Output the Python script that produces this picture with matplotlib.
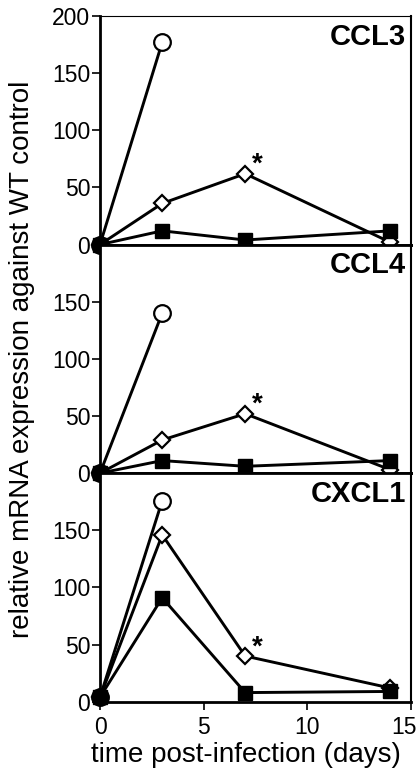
import numpy as np
import matplotlib
matplotlib.use("Agg")
import matplotlib.pyplot as plt
from matplotlib.transforms import ScaledTranslation

plt.rcParams['font.family'] = ['Liberation Sans', 'DejaVu Sans']

# dados (dias pos-infeccao)
days_circle = [0, 3]
days = [0, 3, 7, 14]

genes = ['CCL3', 'CCL4', 'CXCL1']
circle_vals = [[0, 177], [0, 140], [4, 176]]
diamond_vals = [[0, 36, 62, 2], [0, 29, 52, 3], [4, 146, 40, 12]]
square_vals = [[0, 12, 4, 12], [0, 11, 6, 11], [4, 91, 8, 9]]
star_day = 7

ytick_sets = [[0, 50, 100, 150, 200], [0, 50, 100, 150], [0, 50, 100, 150]]
xticks = [0, 5, 10, 15]

fig = plt.figure(figsize=(4.19, 7.76), dpi=100)
gs = fig.add_gridspec(3, 1, left=0.2387, right=0.981, top=0.9794, bottom=0.0957, hspace=0)
axes = [fig.add_subplot(gs[i, 0]) for i in range(3)]

for i, ax in enumerate(axes):
    ax.plot(days_circle, circle_vals[i], '-o', color='black', lw=2.1, ms=12,
            mfc='white', mec='black', mew=1.6, clip_on=False, zorder=3)
    ax.plot(days, diamond_vals[i], '-D', color='black', lw=2.1, ms=8.5,
            mfc='white', mec='black', mew=1.6, clip_on=False, zorder=4)
    ax.plot(days, square_vals[i], '-s', color='black', lw=2.1, ms=10.5,
            mfc='black', mec='black', clip_on=False, zorder=5)
    # asterisco de significancia
    ax.annotate('*', (star_day, diamond_vals[i][days.index(star_day)]),
                xytext=(9, -3), textcoords='offset points', fontsize=20,
                fontweight='bold', ha='center', va='bottom')
    ax.text(0.985, 0.97, genes[i], transform=ax.transAxes, ha='right', va='top',
            fontsize=21, fontweight='bold')
    ax.set_xlim(0, 15)
    ax.set_ylim(0, 200)
    ax.set_yticks(ytick_sets[i])
    ax.tick_params(axis='y', labelsize=16.5, direction='out', length=6, width=1.2, pad=1)
    for s in ['left', 'bottom']:
        ax.spines[s].set_linewidth(2)
    ax.spines['right'].set_linewidth(1.5)
    ax.spines['top'].set_linewidth(0.8 if i == 0 else 2)
    if i < 2:
        ax.tick_params(axis='x', bottom=False, labelbottom=False)
    else:
        ax.set_xticks(xticks)
        ax.tick_params(axis='x', labelsize=16.5, direction='out', length=6, width=1.2, pad=4)
        ax.set_xlabel('time post-infection (days)', fontsize=20)
        ax.xaxis.set_label_coords(0.47, -0.175)
        last = ax.get_xticklabels()[-1]
        last.set_transform(last.get_transform() + ScaledTranslation(-5 / 72, 0, fig.dpi_scale_trans))

fig.text(0.053, 0.537, 'relative mRNA expression against WT control', rotation=90,
         ha='center', va='center', fontsize=20)

fig.savefig('out.png', dpi=100)
